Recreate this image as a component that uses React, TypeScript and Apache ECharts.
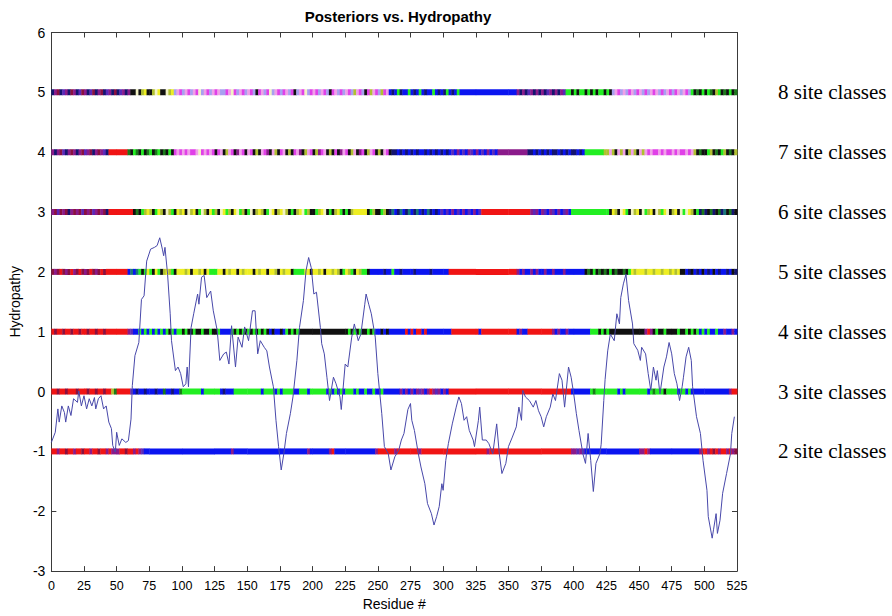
import React, { useEffect, useRef } from 'react';
import * as echarts from 'echarts';

const chartTitle = 'Posteriors vs. Hydropathy';
const xAxisName = 'Residue #';
const yAxisName = 'Hydropathy';

// [residue, hydropathy]
const hydropathyTrace: [number, number][] = [
  [0, -0.85], [3, -0.68], [5, -0.29], [6, -0.51], [8, -0.24], [10, -0.35], [11, -0.51], [13, -0.24], [15, -0.4], [17, -0.12],
  [20, -0.18], [21, 0.01], [23, -0.24], [25, -0.07], [27, -0.29], [29, -0.12], [31, -0.24], [33, -0.1], [34, -0.29], [36, -0.12],
  [38, -0.07], [40, -0.29], [42, -0.24], [44, -0.51], [46, -0.62], [47, -0.9], [49, -1.01], [50, -0.68], [52, -0.9], [54, -0.79],
  [57, -0.85], [59, -0.82], [61, -0.46], [62, 0.1], [64, 0.6], [67, 0.82], [69, 1.54], [71, 1.6], [73, 2.18], [76, 2.38],
  [79, 2.41], [81, 2.44], [83, 2.57], [85, 2.38], [86, 2.27], [87, 2.41], [89, 1.96], [91, 1.3], [92, 0.85], [95, 0.35],
  [97, 0.41], [99, 0.3], [101, 0.08], [103, 0.13], [104, 0.41], [105, 0.08], [107, 1.07], [109, 1.3], [112, 1.63], [113, 1.46],
  [115, 1.91], [117, 1.94], [119, 1.57], [122, 1.68], [124, 1.35], [127, 1.02], [129, 0.52], [132, 0.63], [134, 0.66], [136, 0.46],
  [138, 1.1], [141, 0.41], [143, 0.91], [146, 0.74], [148, 1.08], [151, 0.85], [154, 1.35], [156, 1.35], [158, 0.63], [160, 0.85],
  [163, 0.74], [165, 0.68], [167, 0.41], [170, 0.08], [172, -0.48], [174, -0.92], [176, -1.31], [178, -1.04], [180, -0.7], [183, -0.37],
  [185, -0.09], [188, 0.52], [190, 1.07], [193, 1.52], [195, 2.02], [197, 2.24], [199, 2.07], [201, 1.63], [203, 1.66], [206, 1.07],
  [207, 0.8], [209, 0.63], [211, 0.24], [213, -0.15], [216, 0.24], [218, 0.13], [221, -0.09], [222, -0.3], [225, 0.46], [227, 0.41],
  [230, 0.91], [232, 1.13], [235, 0.85], [237, 0.96], [240, 1.46], [241, 1.63], [243, 1.46], [245, 1.3], [248, 0.91], [250, 0.3],
  [253, -0.37], [255, -0.92], [258, -1.04], [260, -1.31], [263, -1.09], [266, -0.98], [268, -0.81], [270, -0.7], [273, -0.3], [275, -0.2],
  [276, -0.48], [278, -0.65], [281, -1.04], [283, -1.26], [286, -1.54], [288, -1.87], [291, -2.04], [293, -2.23], [295, -2.09], [297, -1.92],
  [299, -1.54], [300, -1.65], [302, -1.15], [304, -0.87], [307, -0.54], [310, -0.26], [312, -0.09], [314, -0.2], [316, -0.48], [318, -0.42],
  [320, -0.65], [323, -0.81], [324, -0.92], [327, -0.48], [328, -0.26], [330, -0.81], [333, -0.81], [335, -0.87], [338, -1.04], [341, -0.54],
  [343, -1.04], [345, -1.37], [348, -1.2], [350, -0.92], [353, -0.76], [356, -0.59], [358, -0.26], [360, -0.48], [361, 0.02], [363, -0.09],
  [366, -0.15], [369, -0.26], [371, -0.15], [373, -0.32], [375, -0.42], [377, -0.59], [379, -0.42], [382, -0.26], [384, -0.04], [386, -0.15],
  [389, 0.3], [391, 0.19], [393, -0.26], [396, 0.41], [398, 0.24], [400, -0.04], [402, -0.37], [404, -0.65], [407, -1.04], [409, -1.2],
  [411, -0.7], [413, -1.15], [415, -1.67], [417, -1.2], [420, -1.04], [421, -0.88], [423, -0.15], [424, 0.2], [426, 0.68], [428, 0.96],
  [431, 0.85], [433, 1.3], [435, 1.13], [436, 1.57], [438, 1.8], [440, 1.96], [442, 1.52], [445, 1.13], [446, 0.8], [449, 0.69],
  [451, 0.52], [452, 0.74], [455, 0.63], [457, 0.3], [459, 0.02], [461, 0.41], [463, 0.19], [464, 0.35], [466, -0.04], [469, 0.41],
  [471, 0.58], [473, 0.82], [475, 0.63], [477, 0.3], [479, 0.13], [481, -0.15], [483, 0.08], [484, 0.24], [486, 0.58], [488, 0.74],
  [490, 0.52], [491, 0.08], [494, -0.42], [497, -0.7], [499, -1.15], [502, -1.65], [503, -2.09], [506, -2.45], [507, -2.31], [509, -2.04],
  [510, -2.37], [512, -2.15], [514, -1.7], [517, -1.37], [520, -1.04], [521, -0.7], [523, -0.42],
];

// colour codes of the posterior bands
const colorCodes: Record<string, string> = {
  r: '#f01414', d: '#8a1040', p: '#8a1a8a', v: '#5a28b8', b: '#0a14f0', n: '#141470',
  g: '#22ee22', e: '#1a7a1a', k: '#101010', y: '#eeee22', o: '#b0c030', m: '#e040e8',
  i: '#f0a0e8', a: '#a8a0f0', t: '#187878', w: '#f2f2c4',
};

// each string covers 25 residues (0-25, 25-50, ... 500-525)
const classes8 = [
  'npdnvpndpnvd', 'pnvdnpdnvpnd', 'nvpnpkkwkoyk', 'kowykkwoyaim', 'aimaimwaimai', 'miaamiwmaima', 'imakmiamwaim',
  'amiamkaimwam', 'imaimakmiama', 'imaoimakmoim', 'aomibnbgnbbg', 'bnbgbnbbgbnb', 'ngbnbgbbbbbb', 'bbbbbbbbbbbb',
  'bbbpnpnvpnpn', 'pnvpnpnpvggk', 'gkggkgkgkggk', 'gkaimaiamiam', 'iamaimiamaim', 'amiaimagkekg', 'kgekogkekgke',
];
const classes7 = [
  'pnpdvnpdpnpd', 'vpdnpdpvnrrr', 'rrrrekgekgke', 'gkegkekgkmim', 'imimmiwmimim', 'kmikoimkpimk', 'imkokimpkiok',
  'mikokmipkoim', 'kopmikokmkpi', 'mkoikpmkoimk', 'okimknnbnbnb', 'nbnbbnbnbnbn', 'bnbvbpbvbpvb', 'pbvbpbvbpppp',
  'pppppppnnbnb', 'nbnbnnbnbnbn', 'nbnbgggggggo', 'oiokioikoiok', 'ioimimmimimm', 'imimmimiokek', 'kgokekgokeko',
];
const classes6 = [
  'pdvdpdnpdpdv', 'dpdvpdpdnrrr', 'rrrrrrkekgoy', 'okgyokwogkyo', 'ykwoykgwokyg', 'okwygokywgok', 'gwkoyokgwyko',
  'ywokgkoywgok', 'kgoywkgkoygk', 'gkoyyyyykgok', 'kgokntbntbnt', 'bntbnbtnbnbv', 'bvbpbvbpbvbp', 'bvrrrrrrrrrr',
  'rrrrrrrrpvpb', 'pvbpvbpbvpbg', 'gggggggggggg', 'gkyokwygkwoy', 'kwgoykwogywk', 'oykwgwyokgne', 'nkenkentkenk',
];
const classes5 = [
  'dpdrdpdrpdrd', 'pdrdpdrdrrrr', 'rrrrbtbtgkgy', 'gkygkoyogkyy', 'yoykyyoykygg', 'gyykyoyykyoy', 'yykyoyykyyok',
  'yoyykggggyyk', 'yyoykyyoyokg', 'yogkyoggkbbb', 'bbnbbgbbnbbb', 'bnbbbbbnbbbb', 'bbrrrrrrrrrr', 'rrrrrrrrrrrr',
  'rrrpbpbbpbpb', 'bpbbpbbbpbbb', 'bbbbkekgkeke', 'kgkekkekgyoy', 'yyoyyoyyoyyo', 'yoykkbnkbnbk', 'bnbkbnbbnbkn',
];
const classes4 = [
  'rdrrdrrdrrdr', 'rdrrdrrdrrrr', 'rrrrpvbbgbgb', 'gbgbgbgkgbgg', 'kgkkgkkgkkgk', 'kgbbbbgkgkgk', 'gkgkgkgkbkbb',
  'kbgkgkgkkkkk', 'kkkkkkkkkkkk', 'kgkgkgkkgkgb', 'bkbkbbbbbbrb', 'rbrrbrbbbbbb', 'bbbrrrrrrrrr', 'rbrrrrrrrrrr',
  'rrrbpbbrrrrr', 'rrrrpbpbbpbb', 'bbbbbbgggkgk', 'gkkkkkkkkkkk', 'kkprpkgkkgkk', 'kkgkkgkgkgbg', 'bgbbgbbpbbpb',
];
const classes3 = [
  'rrdrrdrrrdrr', 'rdrrdrrdrroe', 'rrrrrvbnbbnb', 'bbnbbebbnbbe', 'gggggggbgggg', 'ggbnbbbggggg', 'gggggbggggbg',
  'bggggbbgggbg', 'gggggbgbgbgb', 'gggbgbbgbbgb', 'bgbbbbbbpbpb', 'pbpvpbprpvpb', 'pbrrrrrrrrrr', 'rrrrrrrrrrrr',
  'rrrrrrrrrrrr', 'rrrrrrrrrrrb', 'bbbbbbgegggg', 'ggggbgbggggg', 'gggbgegggkgg', 'ggbggbgbbbbb', 'bbbbbbbbbprr',
];
const classes2 = [
  'rrprrdrrprrd', 'rrprrdrrprpp', 'prrdrrprpvbb', 'bbbbbbbbbbbb', 'bbbbbbbbbbbb', 'bbbbbbpbbbbb', 'bbbbbbbbbbbb',
  'bbbbbbbbbbpb', 'bbbbbbprbbbb', 'bbbbbbbbbbbp', 'rrrrrrprrrrr', 'rrrprrrrrrrr', 'rrrrrrrrrrrr', 'rrrrprrrrrrr',
  'rrrrrrrrrrrr', 'rrrrrrrrrrrp', 'pvpvbbbbbbbb', 'bbbbbbbbbbbb', 'pprpbbbbbbbb', 'bbbbbbbbbbpr', 'rprdrprrprpd',
];

const rowLevels = [5, 4, 3, 2, 1, 0, -1];
const rowLabels = ['8 site classes', '7 site classes', '6 site classes', '5 site classes', '4 site classes', '3 site classes', '2 site classes'];
const rowStrings = [classes8, classes7, classes6, classes5, classes4, classes3, classes2];

const colorKeys = Object.keys(colorCodes);
const colorList = colorKeys.map((k) => colorCodes[k]);

function buildBands() {
  const out: number[][] = [];
  rowStrings.forEach((segs, r) => {
    const level = rowLevels[r];
    segs.forEach((seg, k) => {
      const w = 25 / seg.length;
      let j = 0;
      while (j < seg.length) {
        let e = j;
        while (e + 1 < seg.length && seg[e + 1] === seg[j]) e++;
        out.push([25 * k + j * w, 25 * k + (e + 1) * w, level, colorKeys.indexOf(seg[j])]);
        j = e + 1;
      }
    });
  });
  return out;
}

export default function App() {
  const ref = useRef<HTMLDivElement>(null);
  useEffect(() => {
    if (!ref.current) return;
    const chart = echarts.init(ref.current, undefined, { renderer: 'svg' });
    const axisColor = '#3a3a3a';
    const sans = "'Liberation Sans', Arial, Helvetica, sans-serif";
    chart.setOption({
      animation: false,
      backgroundColor: '#ffffff',
      title: {
        text: chartTitle,
        left: 393,
        textAlign: 'center',
        top: 4,
        textStyle: { fontFamily: sans, fontSize: 15, fontWeight: 'bold', color: '#000' },
      },
      grid: { left: 49, right: 155, top: 32.5, bottom: 43.5, containLabel: false },
      xAxis: [
        {
          type: 'value', min: 0, max: 525, interval: 25, position: 'bottom',
          axisLine: { show: true, onZero: false, lineStyle: { color: axisColor, width: 1 } },
          axisTick: { show: true, inside: true, length: 5, lineStyle: { color: axisColor } },
          axisLabel: { color: '#000', fontSize: 12.5, fontFamily: sans, margin: 8 },
          splitLine: { show: false },
          name: xAxisName, nameLocation: 'middle', nameGap: 25,
          nameTextStyle: { color: '#000', fontSize: 14, fontFamily: sans },
        },
        {
          type: 'value', min: 0, max: 525, interval: 25, position: 'top',
          axisLine: { show: true, onZero: false, lineStyle: { color: axisColor, width: 1 } },
          axisTick: { show: true, inside: true, length: 5, lineStyle: { color: axisColor } },
          axisLabel: { show: false },
          splitLine: { show: false },
        },
      ],
      yAxis: [
        {
          type: 'value', min: -3, max: 6, interval: 1, position: 'left',
          axisLine: { show: true, onZero: false, lineStyle: { color: axisColor, width: 1 } },
          axisTick: { show: true, inside: true, length: 5, lineStyle: { color: axisColor } },
          axisLabel: { color: '#000', fontSize: 14, fontFamily: sans, margin: 6 },
          splitLine: { show: false },
          name: yAxisName, nameLocation: 'middle', nameGap: 21, nameRotate: 90,
          nameTextStyle: { color: '#000', fontSize: 14, fontFamily: sans },
        },
        {
          type: 'value', min: -3, max: 6, interval: 1, position: 'right',
          axisLine: { show: true, onZero: false, lineStyle: { color: axisColor, width: 1 } },
          axisTick: { show: true, inside: true, length: 5, lineStyle: { color: axisColor } },
          axisLabel: {
            color: '#000', fontSize: 21, fontFamily: "'Liberation Serif', 'Times New Roman', serif", margin: 41,
            formatter: (v: number) => {
              const idx = rowLevels.indexOf(Math.round(v));
              return idx >= 0 ? rowLabels[idx] : '';
            },
          },
          splitLine: { show: false },
        },
      ],
      series: [
        {
          type: 'custom',
          xAxisIndex: 0,
          yAxisIndex: 0,
          data: buildBands(),
          encode: { x: [0, 1], y: 2 },
          clip: true,
          z: 2,
          renderItem: (params: any, api: any) => {
            const y = api.value(2);
            const p0 = api.coord([api.value(0), y]);
            const p1 = api.coord([api.value(1), y]);
            return {
              type: 'rect',
              shape: { x: p0[0], y: p0[1] - 3, width: p1[0] - p0[0] + 0.4, height: 6 },
              style: { fill: colorList[api.value(3)] },
            };
          },
        },
        {
          type: 'line',
          xAxisIndex: 0,
          yAxisIndex: 0,
          data: hydropathyTrace,
          showSymbol: false,
          symbol: 'none',
          z: 5,
          lineStyle: { color: '#4848aa', width: 1 },
        },
      ],
    });
    return () => chart.dispose();
  }, []);
  return <div ref={ref} style={{ position: 'fixed', left: 0, top: 0, width: 892, height: 616 }} />;
}
